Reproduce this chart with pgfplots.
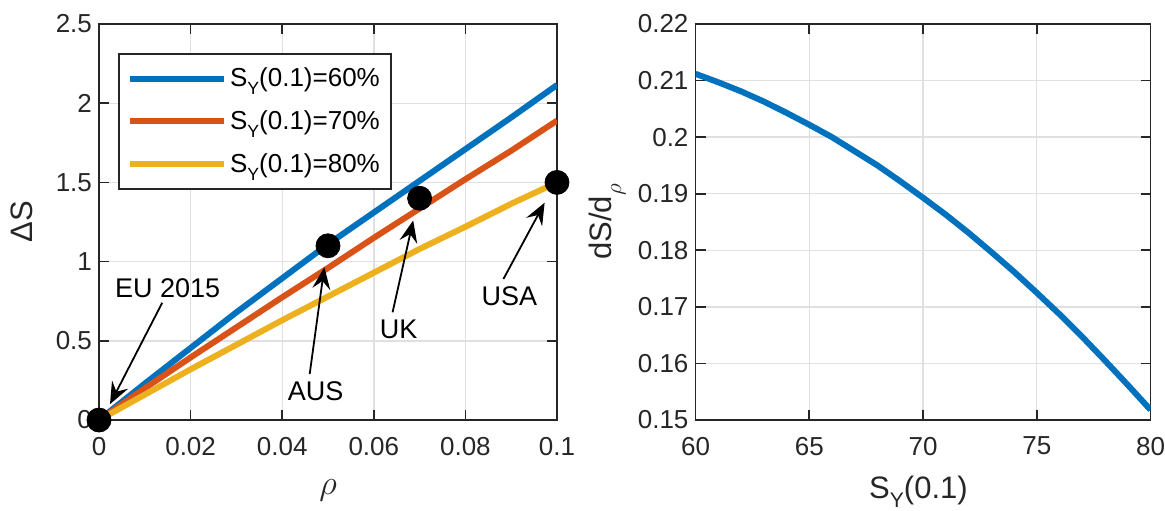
\documentclass[border=0pt]{standalone}
\usepackage{fontspec}
\setmainfont{Liberation Sans}
\usepackage{graphicx}
\usepackage{pgfplots}
\pgfplotsset{compat=1.18}
\usetikzlibrary{arrows.meta}
\definecolor{mblue}{RGB}{0,114,189}
\definecolor{morange}{RGB}{217,83,25}
\definecolor{myellow}{RGB}{237,177,32}
\definecolor{axgray}{RGB}{38,38,38}
\definecolor{gridgray}{RGB}{224,224,224}
\newcommand{\SY}{S\raisebox{-0.3em}{\scalebox{0.68}{Y}}}
\pgfplotsset{
  mystyle/.style={
    scale only axis,
    axis line style={axgray, line width=0.8pt},
    tick style={axgray, line width=0.8pt},
    major tick length=5pt,
    tick align=inside,
    grid=major,
    major grid style={gridgray, line width=0.7pt},
    ticklabel style={font=\fontsize{13}{15}\selectfont, text=axgray},
    xticklabel style={yshift=-5pt},
    label style={font=\fontsize{15.5}{18}\selectfont, text=axgray},
    /pgf/number format/assume math mode=true,
    height=198pt,
  }
}
\begin{document}
\begin{tikzpicture}
\begin{axis}[mystyle,
  width=229pt,
  xmin=0, xmax=0.1, ymin=0, ymax=2.5,
  xtick={0,0.02,0.04,0.06,0.08,0.1},
  xticklabels={0,0.02,0.04,0.06,0.08,0.1},
  ytick={0,0.5,1,1.5,2,2.5},
  yticklabels={0,0.5,1,1.5,2,2.5},
  xlabel={\fontsize{17}{18}\selectfont$\rho$},
  ylabel={ΔS},
  xlabel style={at={(rel axis cs:0.5,0)}, anchor=center, yshift=-35pt},
  ylabel style={at={(rel axis cs:0,0.5)}, anchor=center, yshift=38.5pt},
  legend style={at={(rel axis cs:0.042,0.927)}, anchor=north west,
    draw=axgray, line width=0.8pt, fill=white,
    font=\fontsize{13}{15}\selectfont,
    inner xsep=4pt, inner ysep=5.5pt, row sep=7.5pt,
    nodes={inner sep=1.5pt}},
  legend cell align=left,
  legend image code/.code={\draw[#1] (0pt,0pt) -- (47pt,0pt);},
]
\addplot[mblue, line width=3pt] coordinates {
(0,0) (0.01,0.23) (0.02,0.455) (0.03,0.68) (0.04,0.895) (0.05,1.11)
(0.06,1.31) (0.07,1.51) (0.08,1.71) (0.09,1.91) (0.1,2.115)};
\addlegendentry{\SY(0.1)=60\%}
\addplot[morange, line width=3pt] coordinates {
(0,0) (0.01,0.2) (0.02,0.395) (0.03,0.585) (0.04,0.775) (0.05,0.96)
(0.06,1.15) (0.07,1.335) (0.08,1.52) (0.09,1.70) (0.1,1.89)};
\addlegendentry{\SY(0.1)=70\%}
\addplot[myellow, line width=3pt] coordinates {
(0,0) (0.01,0.16) (0.02,0.32) (0.03,0.475) (0.04,0.63) (0.05,0.78)
(0.06,0.93) (0.07,1.08) (0.08,1.22) (0.09,1.365) (0.1,1.50)};
\addlegendentry{\SY(0.1)=80\%}
\addplot[only marks, mark=*, mark size=6pt, black, forget plot] coordinates {
(0,0) (0.05,1.1) (0.07,1.4) (0.1,1.5)};
\begin{scope}[line width=0.9pt, -{Stealth[length=11pt, width=9pt, inset=4pt]}]
\draw (axis cs:0.0138,0.74) -- (axis cs:0.0024,0.10);
\draw (axis cs:0.046,0.29) -- (axis cs:0.0492,0.965);
\draw (axis cs:0.0641,0.68) -- (axis cs:0.0686,1.26);
\draw (axis cs:0.0883,0.89) -- (axis cs:0.0973,1.372);
\end{scope}
\begin{scope}[font=\fontsize{13.5}{16}\selectfont]
\node at (axis cs:0.015,0.83) {EU 2015};
\node at (axis cs:0.0473,0.18) {AUS};
\node at (axis cs:0.0654,0.574) {UK};
\node at (axis cs:0.0896,0.784) {USA};
\end{scope}
\end{axis}
\begin{axis}[mystyle,
  at={(298.25pt,0pt)},
  width=227.5pt,
  xmin=60, xmax=80, ymin=0.15, ymax=0.22,
  xtick={60,65,70,75,80},
  ytick={0.15,0.16,0.17,0.18,0.19,0.2,0.21,0.22},
  yticklabels={0.15,0.16,0.17,0.18,0.19,0.2,0.21,0.22},
  xlabel={\SY(0.1)},
  ylabel={dS/d\raisebox{-0.3em}{\scalebox{0.8}{$\rho$}}},
  xlabel style={at={(rel axis cs:0.49,0)}, anchor=base, yshift=-39pt},
  ylabel style={at={(rel axis cs:0,0.5)}, anchor=center, yshift=44pt},
]
\addplot[mblue, line width=3pt] coordinates {
(60,0.2112) (61,0.2097) (62,0.2081) (63,0.2063) (64,0.2043) (65,0.2022)
(66,0.2000) (67,0.1975) (68,0.1950) (69,0.1922) (70,0.1893) (71,0.1863)
(72,0.1831) (73,0.1797) (74,0.1762) (75,0.1725) (76,0.1687) (77,0.1647)
(78,0.1605) (79,0.1562) (80,0.1518)};
\end{axis}
\pgfresetboundingbox
\path[use as bounding box] (-49.5pt,-45pt) rectangle (533pt,210pt);
\end{tikzpicture}
\end{document}
